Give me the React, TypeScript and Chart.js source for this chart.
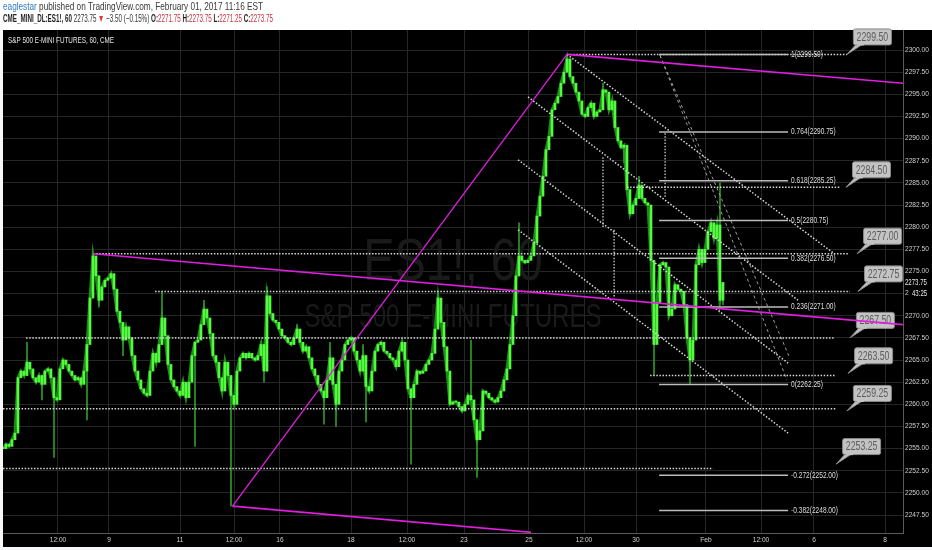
import React, { useEffect, useRef } from 'react';
import { Chart, registerables } from 'chart.js';

Chart.register(...registerables);

// ---------- DATA ----------
// hourly closes (bar index 0..240)
const closes: number[] = [
  2255.0, 2255.5, 2255.25, 2256.0, 2256.75, 2263.0, 2263.75, 2263.25, 2264.75, 2264.0,
  2263.0, 2262.5, 2263.25, 2262.25, 2263.75, 2264.0, 2263.0, 2260.75, 2260.5, 2264.0,
  2265.0, 2264.5, 2263.75, 2263.25, 2262.75, 2263.0, 2262.25, 2263.75, 2266.75, 2272.0,
  2276.75, 2274.5, 2271.75, 2273.25, 2274.0, 2274.25, 2274.75, 2273.0, 2270.5, 2269.25,
  2267.25, 2268.75, 2267.5, 2265.5, 2263.75, 2262.75, 2261.75, 2261.25, 2261.0, 2263.75,
  2265.75, 2264.75, 2266.75, 2269.75, 2267.75, 2264.5, 2262.75, 2262.0, 2261.5, 2261.0,
  2262.5, 2260.75, 2262.5, 2265.5, 2267.0, 2267.25, 2269.0, 2270.75, 2269.75, 2268.0,
  2265.5, 2264.75, 2263.0, 2261.5, 2264.75, 2263.25, 2261.0, 2260.0, 2263.75, 2265.25,
  2265.75, 2265.25, 2265.75, 2265.25, 2265.0, 2265.5, 2266.75, 2263.75, 2272.25, 2270.25,
  2269.5, 2269.25, 2268.5, 2267.75, 2267.5, 2267.0, 2266.75, 2267.5, 2268.5, 2267.0,
  2266.0, 2266.5, 2265.25, 2264.0, 2263.25, 2262.25, 2261.5, 2260.75, 2262.75, 2265.25,
  2262.25, 2260.0, 2263.75, 2265.0, 2266.75, 2267.25, 2267.5, 2266.0, 2265.0, 2263.75,
  2265.5, 2262.0, 2261.5, 2263.75, 2266.0, 2266.75, 2267.0, 2266.0, 2265.75, 2265.25,
  2265.0, 2264.25, 2266.0, 2267.0, 2265.0, 2261.75, 2260.75, 2262.25, 2263.75, 2263.5,
  2263.75, 2264.5, 2265.0, 2265.75, 2268.5, 2272.0, 2269.25, 2266.5, 2263.75, 2260.0,
  2260.25, 2260.25, 2259.75, 2259.25, 2260.0, 2261.0, 2260.5, 2258.25, 2256.0, 2257.0,
  2261.5, 2261.25, 2260.75, 2260.5, 2260.25, 2260.75, 2261.5, 2262.75, 2264.0, 2266.75,
  2270.0, 2274.5, 2276.75, 2276.25, 2276.0, 2276.25, 2276.75, 2278.25, 2281.25, 2283.5,
  2285.75, 2288.75, 2290.25, 2293.25, 2294.0, 2294.75, 2296.25, 2297.5, 2299.0, 2297.0,
  2296.25, 2295.25, 2294.25, 2292.75, 2292.5, 2293.5, 2294.0, 2292.5, 2293.0, 2293.25,
  2295.5, 2295.25, 2293.25, 2294.25, 2291.25, 2289.75, 2289.0, 2289.25, 2284.25, 2281.5,
  2282.5, 2283.25, 2284.75, 2283.25, 2282.75, 2282.5, 2276.25, 2266.75, 2271.5, 2275.75,
  2276.0, 2275.5, 2270.0, 2270.75, 2273.5, 2273.0, 2272.75, 2271.25, 2267.5, 2265.0,
  2267.25, 2275.75, 2277.5, 2276.0, 2277.5, 2279.5, 2280.5, 2278.75, 2280.25, 2271.75,
  2273.75,
];

// bars with long wicks: [bar index, wick extreme price]
const wickExtremes: [number, number][] = [
  [8, 2267.0], [13, 2260.5], [17, 2254.0], [28, 2258.25], [30, 2277.0], [32, 2271.0],
  [40, 2265.5], [53, 2272.75], [64, 2255.25], [67, 2271.75], [76, 2248.5], [87, 2262.5],
  [88, 2273.25], [98, 2269.0], [107, 2257.75], [109, 2267.0], [111, 2257.5], [120, 2266.75],
  [121, 2258.0], [136, 2253.25], [145, 2272.75], [156, 2267.25], [158, 2251.75], [172, 2280.5],
  [188, 2299.5], [200, 2296.25], [207, 2287.25], [212, 2285.75], [217, 2263.25], [229, 2262.25],
  [239, 2285.0], [240, 2271.25],
];

const xTickPositions = [18.33, 35.33, 59, 77, 92.33, 116, 134.67, 153.67, 175.33, 193.67, 211, 234.33, 252.67, 270.33, 294];
const xTickLabels = ['12:00', '9', '11', '12:00', '16', '18', '12:00', '23', '25', '12:00', '30', 'Feb', '12:00', '6', '8'];

const priceMin = 2245.47;
const priceMax = 2302.26;
const priceStep = 2.5;

// magenta trend channel: [[t, price], [t, price]]
const magentaLines: [number, number][][] = [
  [[30, 2277.0], [300, 2269.0]],
  [[188, 2299.5], [300, 2296.25]],
  [[76.5, 2248.5], [176, 2245.55]],
  [[76.5, 2248.5], [188, 2299.5]],
];

// dotted horizontal levels: [tStart, tEnd, price]
const dottedHLines: [number, number, number][] = [
  [30, 281.7, 2277.0],
  [50.7, 282.3, 2272.75],
  [7.7, 277.3, 2267.5],
  [0, 277.7, 2259.5],
  [0, 236.7, 2252.75],
  [188, 281.3, 2299.5],
  [208, 279, 2284.5],
  [215.7, 277.3, 2263.25],
];

// dotted vertical connectors: [t, priceTop, priceBottom]
const dottedVLines: [number, number, number][] = [
  [220.7, 2290.6, 2283.4],
  [200, 2287.9, 2280.0],
  [203.7, 2279.7, 2272.1],
];

// dotted parallel channel lines
const dottedDiagonals: [number, number][][] = [
  [[188, 2299.5], [276.7, 2277.1]],
  [[175, 2294.7], [265, 2271.75]],
  [[171.7, 2287.6], [261.7, 2264.65]],
  [[171.7, 2279.7], [261.7, 2256.75]],
];

// dashed fan lines
const dashedFan: [number, number][][] = [
  [[219, 2299.4], [261.3, 2262.75]],
  [[219, 2299.4], [262.3, 2265.2]],
];

const fibRatios = [1, 0.764, 0.618, 0.5, 0.382, 0.236, 0, -0.272, -0.382];
const fibPrices = [2299.5, 2290.75, 2285.25, 2280.75, 2276.5, 2271.0, 2262.25, 2252.0, 2248.0];
const fibStartT = 218.7;
const fibEndT = 261.7;

const calloutTimes = [281.3, 281, 284.7, 285, 282.3, 281.7, 281.3, 277.7];
const calloutPrices = [2299.5, 2284.5, 2277.0, 2272.75, 2267.5, 2263.5, 2259.25, 2253.25];

const lastPrice = 2273.75;
const barCountdown = '43:25';

const headerUser = 'eaglestar';
const headerRest = ' published on TradingView.com, February 01, 2017 11:16 EST';
const quoteSegments: [string, string, string][] = [
  ['CME_MINI_DL:ES1!, 60', 'bold', '#1f1f1f'],
  [' 2273.75 ', 'normal', '#333333'],
  ['▼', 'normal', '#e0303c'],
  [' −3.50 (−0.15%) ', 'normal', '#333333'],
  ['O:', 'bold', '#1f1f1f'],
  ['2271.75', 'normal', '#c8303c'],
  [' H:', 'bold', '#1f1f1f'],
  ['2273.75', 'normal', '#c8303c'],
  [' L:', 'bold', '#1f1f1f'],
  ['2271.25', 'normal', '#c8303c'],
  [' C:', 'bold', '#1f1f1f'],
  ['2273.75', 'normal', '#c8303c'],
];
const chartTitle = 'S&P 500 E-MINI FUTURES, 60, CME';
const watermarkMain = 'ES1!, 60';
const watermarkSub = 'S&P 500 E-MINI FUTURES';

// ---------- helpers ----------
const SANS = '"Liberation Sans", Arial, "DejaVu Sans", sans-serif';

function fontExists(name: string): boolean {
  const c = document.createElement('canvas').getContext('2d');
  if (!c) return false;
  const s = 'mmmwwwiii 2300.00';
  c.font = '40px monospace';
  const a = c.measureText(s).width;
  c.font = `40px "${name}", monospace`;
  const b = c.measureText(s).width;
  c.font = '40px serif';
  const a2 = c.measureText(s).width;
  c.font = `40px "${name}", serif`;
  const b2 = c.measureText(s).width;
  return Math.abs(b - b2) < 0.01 && Math.abs(b - a) > 0.01;
}

function measure(ctx: CanvasRenderingContext2D, text: string, size: number, weight = 'normal') {
  ctx.save();
  ctx.font = `${weight} ${size}px ${SANS}`;
  const w = ctx.measureText(text).width;
  ctx.restore();
  return w;
}

function drawScaled(
  ctx: CanvasRenderingContext2D, text: string, x: number, y: number, size: number, color: string,
  sx: number, weight = 'normal', align: CanvasTextAlign = 'left', baseline: CanvasTextBaseline = 'middle'
) {
  ctx.save();
  ctx.font = `${weight} ${size}px ${SANS}`;
  ctx.fillStyle = color;
  ctx.textAlign = align;
  ctx.textBaseline = baseline;
  ctx.translate(x, y);
  ctx.scale(sx, 1);
  ctx.fillText(text, 0, 0);
  ctx.restore();
}

function seg(a: [number, number], b: [number, number], color: string, width: number, dash: number[], order: number, extra: any = {}) {
  return {
    type: 'line',
    data: [{ x: a[0], y: a[1] }, { x: b[0], y: b[1] }],
    borderColor: color,
    borderWidth: width,
    borderDash: dash,
    borderCapStyle: 'butt',
    pointRadius: 0,
    pointHoverRadius: 0,
    fill: false,
    tension: 0,
    order,
    ...extra,
  };
}

const decorPlugin = {
  id: 'decor',
  beforeDraw(chart: any) {
    const ctx: CanvasRenderingContext2D = chart.ctx;
    ctx.save();
    ctx.fillStyle = '#f7f8fa';
    ctx.fillRect(0, 0, chart.width, chart.height);
    ctx.fillStyle = '#ffffff';
    ctx.fillRect(0, 0, chart.width, 30);
    ctx.fillStyle = '#000000';
    ctx.fillRect(3, 30, chart.width - 3, 517);
    ctx.restore();

    // header line 1
    const size1 = 11;
    const w1 = measure(ctx, headerUser + headerRest, size1);
    const sx1 = 260 / w1;
    drawScaled(ctx, headerUser, 3, 7, size1, '#2f7cc0', sx1);
    drawScaled(ctx, headerRest, 3 + measure(ctx, headerUser, size1) * sx1, 7, size1, '#3a3a3a', sx1);

    // header line 2
    const size2 = 10.5;
    let total = 0;
    quoteSegments.forEach(([t, w]) => { total += measure(ctx, t, size2, w); });
    const sx2 = 270 / total;
    let x = 3;
    quoteSegments.forEach(([t, w, c]) => {
      drawScaled(ctx, t, x, 19.5, size2, c, sx2, w);
      x += measure(ctx, t, size2, w) * sx2;
    });
  },
  beforeDatasetsDraw(chart: any) {
    const ctx: CanvasRenderingContext2D = chart.ctx;
    const area = chart.chartArea;
    const cx = (area.left + area.right) / 2;
    drawScaled(ctx, watermarkMain, cx, 280, 60, '#1a1a1a', 0.78, 'normal', 'center', 'alphabetic');
    drawScaled(ctx, watermarkSub, cx, 327, 33, '#1a1a1a', 0.73, 'normal', 'center', 'alphabetic');
    const tw = measure(ctx, chartTitle, 9.5);
    drawScaled(ctx, chartTitle, 8, 40, 9.5, '#e6e6e6', 106 / tw);
    chart.$calloutsDone = false;
  },
  beforeDatasetDraw(chart: any, args: any) {
    const ds = chart.data.datasets[args.index];
    if (!ds || !ds.isMagenta || chart.$calloutsDone) return;
    chart.$calloutsDone = true;
    const ctx: CanvasRenderingContext2D = chart.ctx;
    const xs = chart.scales.x;
    const ys = chart.scales.y;
    calloutPrices.forEach((p, i) => {
      const tx = xs.getPixelForValue(calloutTimes[i]);
      const ty = ys.getPixelForValue(p);
      const left = tx + 6;
      const top = ty - 26;
      const w = 38;
      const h = 16;
      ctx.save();
      ctx.fillStyle = '#c3c3c3';
      ctx.strokeStyle = '#8a8a8a';
      ctx.lineWidth = 1;
      ctx.beginPath();
      ctx.moveTo(left + 4, top + h - 1);
      ctx.lineTo(tx, ty);
      ctx.lineTo(left + 11, top + h - 1);
      ctx.closePath();
      ctx.fill();
      ctx.stroke();
      ctx.beginPath();
      (ctx as any).roundRect(left + 0.5, top + 0.5, w, h, 2);
      ctx.fill();
      ctx.stroke();
      ctx.fillStyle = '#c3c3c3';
      ctx.fillRect(left + 4, top + h - 2, 7, 3);
      ctx.restore();
      drawScaled(ctx, p.toFixed(2), left + w / 2 + 0.5, top + h / 2 + 1, 12, '#5c5c5c', 0.73, 'normal', 'center');
    });
  },
  afterDatasetsDraw(chart: any) {
    const ctx: CanvasRenderingContext2D = chart.ctx;
    const xs = chart.scales.x;
    const ys = chart.scales.y;
    const lx = xs.getPixelForValue(fibEndT) + 3;
    fibPrices.forEach((p, i) => {
      drawScaled(ctx, `${fibRatios[i]}(${p.toFixed(2)})`, lx, ys.getPixelForValue(p), 9, '#dedede', 0.73);
    });
    // last price label on the price axis
    const yl = ys.getPixelForValue(lastPrice);
    const ax = chart.chartArea.right;
    ctx.save();
    ctx.fillStyle = '#000';
    ctx.fillRect(ax + 1, yl - 5, chart.width - ax - 1, 10);
    ctx.fillRect(ax + 6, yl + 5, chart.width - ax - 6, 12);
    ctx.restore();
    drawScaled(ctx, lastPrice.toFixed(2), ax + 2, yl, 8.3, '#e8e8e8', 0.73);
    drawScaled(ctx, barCountdown, ax + 9, yl + 11.5, 8.3, '#e8e8e8', 0.73);
  },
};

export default function App() {
  const ref = useRef<HTMLCanvasElement>(null);
  useEffect(() => {
    document.body.style.margin = '0';
    const narrow = fontExists('Liberation Sans Narrow');
    const axisFont = narrow
      ? { family: '"Liberation Sans Narrow"', size: 7.6 }
      : { family: '"Liberation Sans", Arial, sans-serif', size: 6.6 };

    const opens = closes.map((c, i) => (i === 0 ? c : closes[i - 1]));
    const bodyData = closes.map((c, i) => ({ x: i, y: [opens[i], c] }));
    const closeLine = closes.map((c, i) => ({ x: i, y: c }));
    const wickData = wickExtremes.map(([i, p]) => ({
      x: i,
      y: [Math.min(opens[i], closes[i], p), Math.max(opens[i], closes[i], p)],
    }));

    const datasets: any[] = [];
    datasets.push({
      type: 'bar', data: bodyData, backgroundColor: '#52fb3e', barThickness: 2, maxBarThickness: 2,
      grouped: false, minBarLength: 1, order: 10,
    });
    datasets.push({
      type: 'bar', data: wickData, backgroundColor: '#2c9a28', barThickness: 1, maxBarThickness: 1,
      grouped: false, order: 11,
    });
    datasets.push({
      type: 'line', data: closeLine, borderColor: '#1f8a1c', borderWidth: 3, pointRadius: 0,
      pointHoverRadius: 0, fill: false, tension: 0, order: 12,
    });
    dottedHLines.forEach(([t0, t1, p]) => datasets.push(seg([t0, p], [t1, p], '#d8d8d8', 1.5, [1.5, 1.6], 6)));
    dottedVLines.forEach(([t, p0, p1]) => datasets.push(seg([t, p0], [t, p1], '#d0d0d0', 1.3, [1.5, 1.6], 6)));
    dottedDiagonals.forEach(([a, b]) => datasets.push(seg(a, b, '#d8d8d8', 1.5, [1.5, 1.8], 6)));
    dashedFan.forEach(([a, b]) => datasets.push(seg(a, b, '#9c9c9c', 1, [3, 3], 6)));
    fibPrices.forEach((p) => datasets.push(seg([fibStartT, p], [fibEndT, p], '#bcbcbc', 1.5, [], 5)));
    magentaLines.forEach(([a, b], i) => datasets.push(seg(a, b, '#e01ee0', i === 3 ? 1.3 : 1.7, [], 1, { isMagenta: true })));

    const chart = new Chart(ref.current as HTMLCanvasElement, {
      type: 'bar',
      data: { datasets },
      options: {
        animation: false,
        responsive: false,
        devicePixelRatio: 1,
        events: [],
        layout: { padding: { left: 3, top: 30, right: 0, bottom: 0 } },
        plugins: { legend: { display: false }, tooltip: { enabled: false } },
        scales: {
          x: {
            type: 'linear',
            min: 0,
            max: 300,
            offset: false,
            afterBuildTicks: (scale: any) => {
              scale.ticks = xTickPositions.map((v) => ({ value: v }));
            },
            afterFit: (scale: any) => { scale.height = 17; },
            grid: { color: '#262626', lineWidth: 1, drawTicks: false, offset: false },
            border: { display: true, color: '#5a5a5a', width: 1 },
            ticks: {
              autoSkip: false,
              maxRotation: 0,
              minRotation: 0,
              padding: 3,
              color: '#cfcfcf',
              font: axisFont,
              callback: (_v: any, i: number) => xTickLabels[i],
            },
          },
          y: {
            type: 'linear',
            position: 'right',
            min: priceMin,
            max: priceMax,
            afterFit: (scale: any) => { scale.width = 29; },
            grid: { color: '#262626', lineWidth: 1, drawTicks: false },
            border: { display: true, color: '#5a5a5a', width: 1 },
            ticks: {
              stepSize: priceStep,
              includeBounds: false,
              autoSkip: false,
              padding: 2,
              color: '#cfcfcf',
              font: axisFont,
              callback: (v: any) => Number(v).toFixed(2),
            },
          },
        },
      } as any,
      plugins: [decorPlugin],
    } as any);
    return () => chart.destroy();
  }, []);
  return (
    <div style={{ width: 932, height: 550 }}>
      <canvas ref={ref} width={932} height={550} style={{ display: 'block' }} />
    </div>
  );
}
